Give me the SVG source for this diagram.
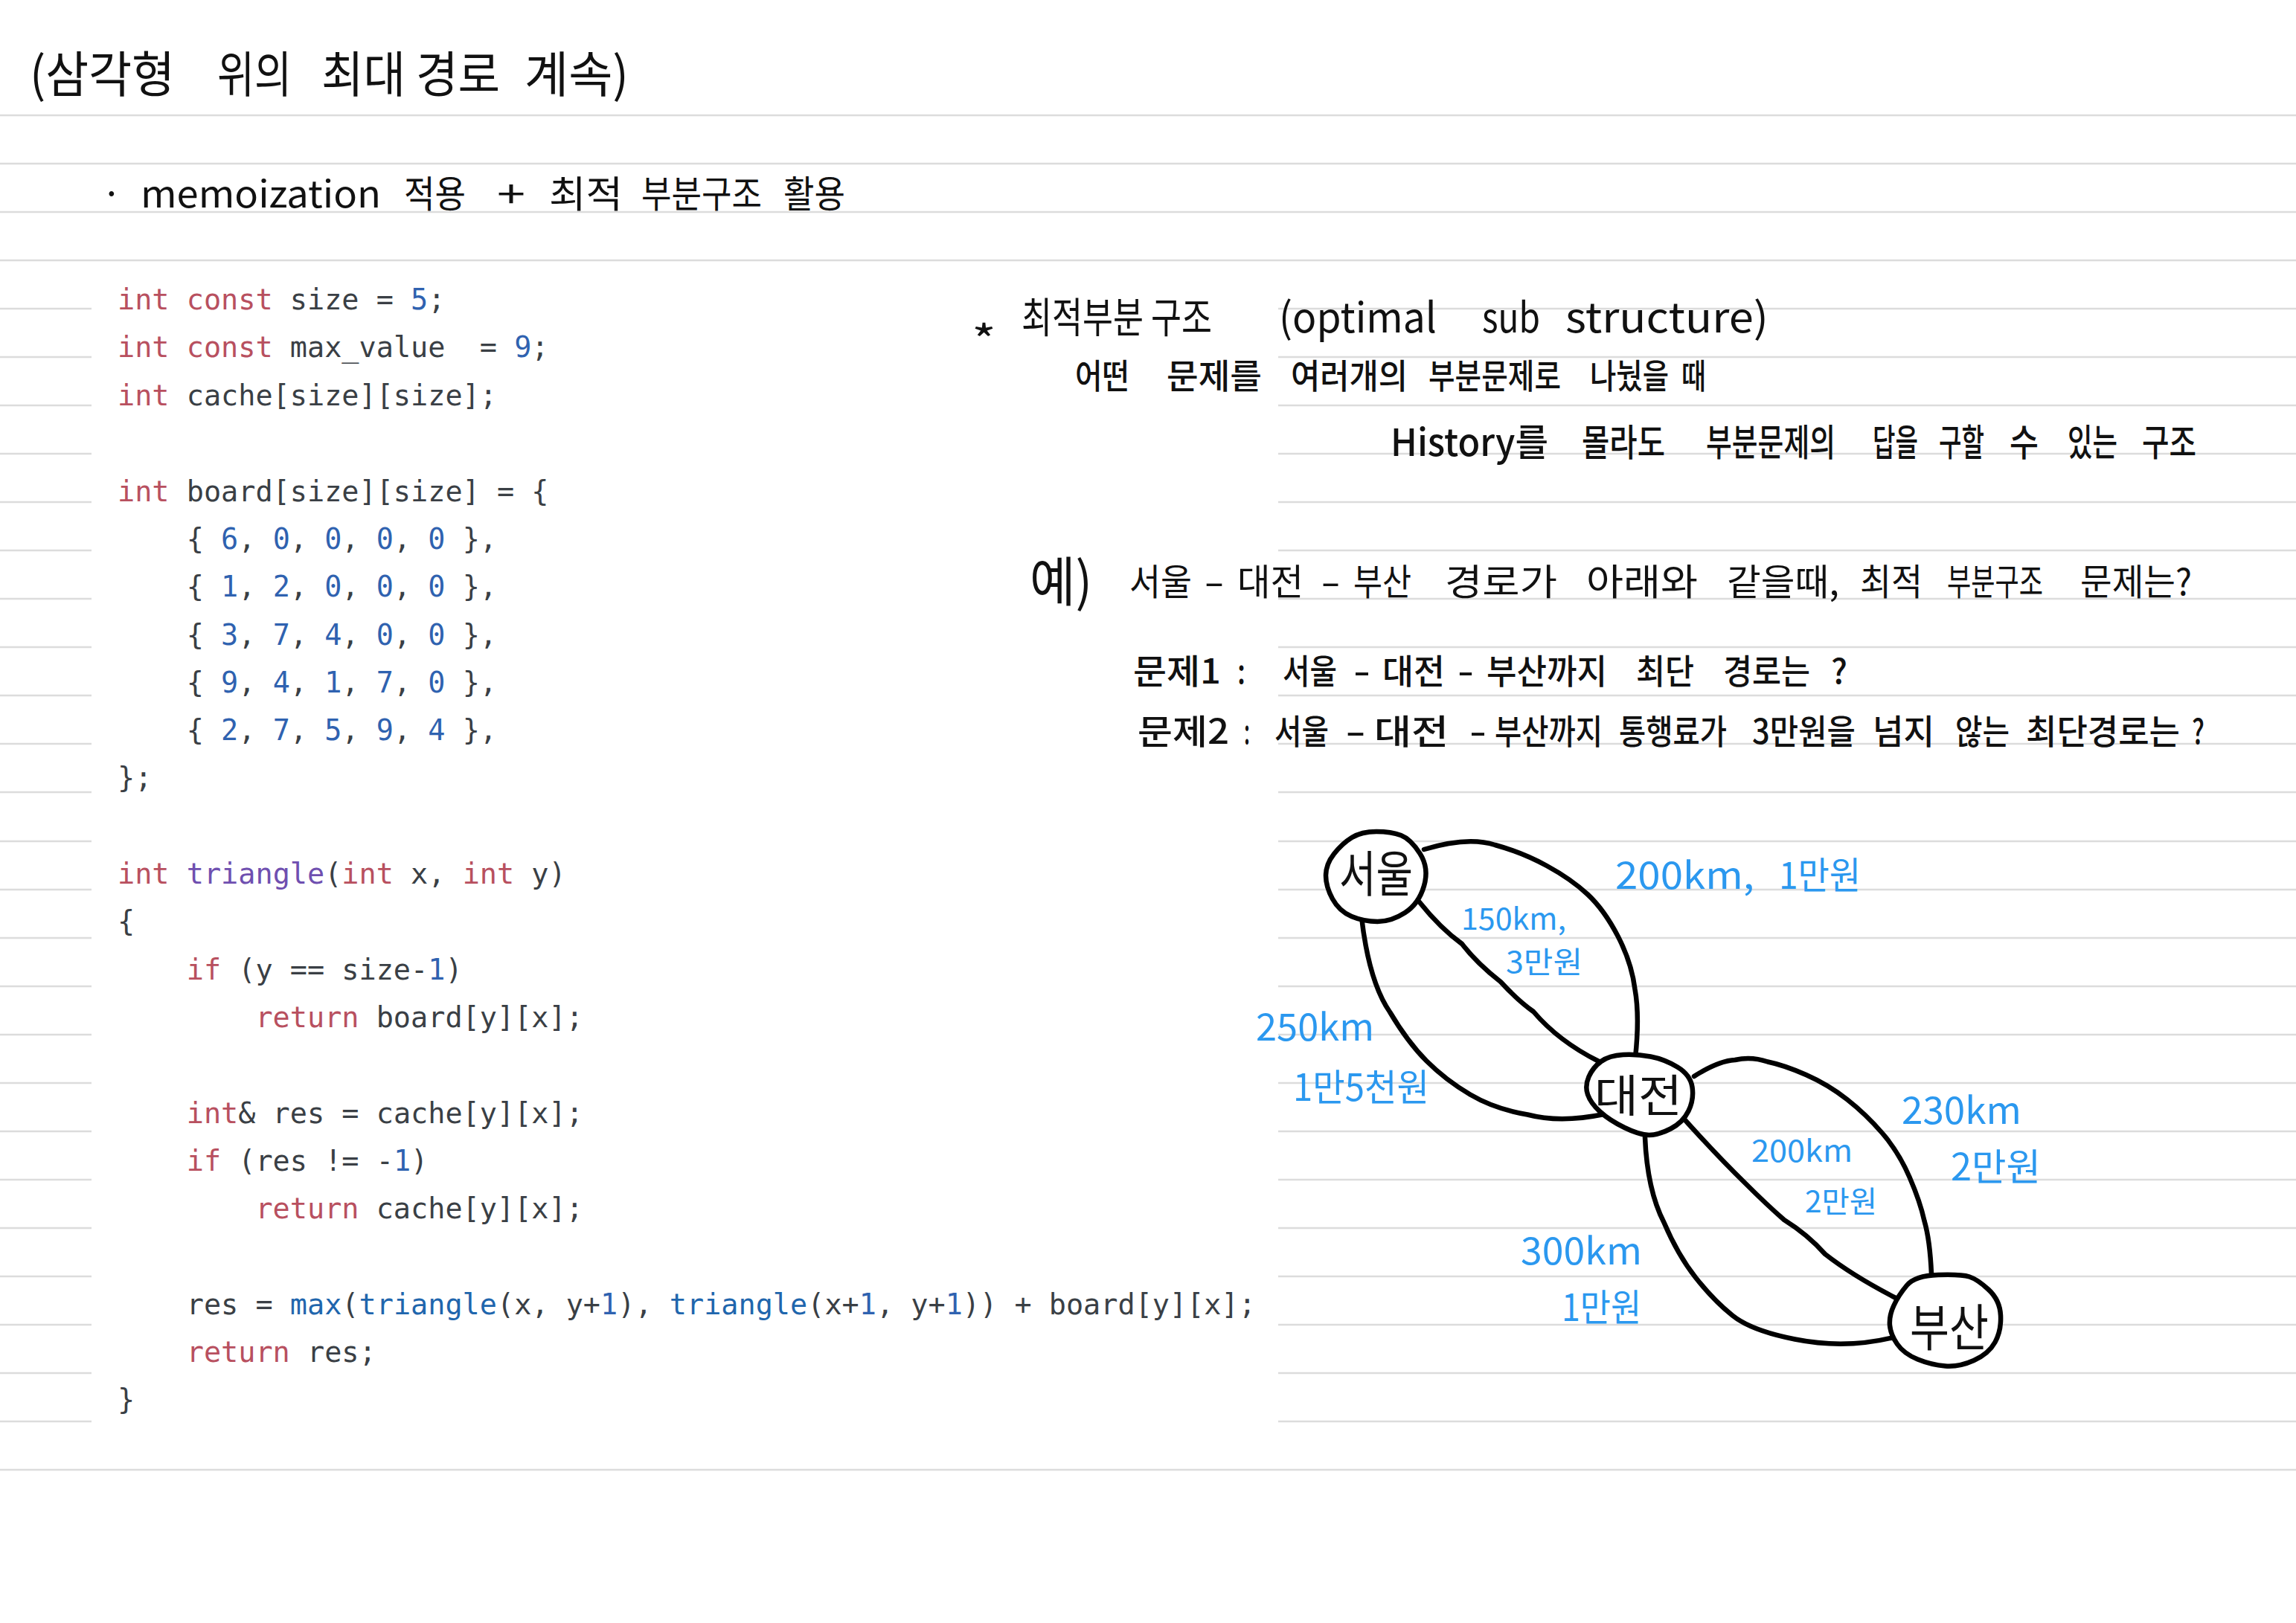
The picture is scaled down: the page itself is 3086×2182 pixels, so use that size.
<svg xmlns="http://www.w3.org/2000/svg" width="3086" height="2182" viewBox="0 0 3086 2182">
<style>
.bg{fill:#fff}
.rule{stroke:#dcdcdc;stroke-width:2.5;fill:none}
.code{font-family:"DejaVu Sans Mono","Liberation Mono",monospace;font-size:38.5px;fill:#3a3f45;white-space:pre}
.k{fill:#b8505f}.n{fill:#2f62b0}.f{fill:#6f4fb0}.c{fill:#1f66ad}
.hw{font-family:"Noto Sans CJK KR","Noto Sans",sans-serif;fill:#111}
.b5{font-weight:500}
.blue{font-family:"Noto Sans CJK KR","Noto Sans",sans-serif;fill:#2b98ef;font-size:50px}
.small{font-size:40px}
.edge{fill:none;stroke:#000;stroke-width:6.5;stroke-linecap:round;stroke-linejoin:round}
.node{fill:#fff;stroke:#000;stroke-width:6.5;stroke-linejoin:round}
</style>
<rect class="bg" width="3086" height="2182"/>
<g id="rules">
<path class="rule" d="M0 155H3086M0 220H3086M0 285H3086M0 350H3086M0 1976H3086"/>
<path class="rule" d="M0 415H123M0 480H123M0 545H123M0 610H123M0 675H123M0 740H123M0 805H123M0 870H123M0 935H123M0 1000H123M0 1065H123M0 1131H123M0 1196H123M0 1261H123M0 1326H123M0 1391H123M0 1456H123M0 1521H123M0 1586H123M0 1651H123M0 1716H123M0 1781H123M0 1846H123M0 1911H123"/>
<path class="rule" d="M1718 415H3086M1718 480H3086M1718 545H3086M1718 610H3086M1718 675H3086M1718 740H3086M1718 805H3086M1718 870H3086M1718 935H3086M1718 1000H3086M1718 1065H3086M1718 1131H3086M1718 1196H3086M1718 1261H3086M1718 1326H3086M1718 1391H3086M1718 1456H3086M1718 1521H3086M1718 1586H3086M1718 1651H3086M1718 1716H3086M1718 1781H3086M1718 1846H3086M1718 1911H3086"/>
</g>
<g id="heading">
<text class="hw" y="124" font-size="66"><tspan x="40" textLength="195" lengthAdjust="spacingAndGlyphs">(삼각형</tspan> <tspan x="292" textLength="100" lengthAdjust="spacingAndGlyphs">위의</tspan> <tspan x="432" textLength="240" lengthAdjust="spacingAndGlyphs">최대 경로</tspan> <tspan x="705" textLength="140" lengthAdjust="spacingAndGlyphs">계속)</tspan></text>
<text class="hw" y="279" font-size="50"><tspan x="136">·</tspan> <tspan x="189" textLength="323" lengthAdjust="spacingAndGlyphs">memoization</tspan> <tspan x="543" textLength="83" lengthAdjust="spacingAndGlyphs">적용</tspan> <tspan x="668" textLength="38" lengthAdjust="spacingAndGlyphs">+</tspan> <tspan x="738" textLength="99" lengthAdjust="spacingAndGlyphs">최적</tspan> <tspan x="862" textLength="162" lengthAdjust="spacingAndGlyphs">부분구조</tspan> <tspan x="1053" textLength="83" lengthAdjust="spacingAndGlyphs">활용</tspan></text>
</g>
<g id="code">
<text class="code" x="158" y="416"><tspan class="k">int const</tspan> size = <tspan class="n">5</tspan>;</text>
<text class="code" x="158" y="480"><tspan class="k">int const</tspan> max_value  = <tspan class="n">9</tspan>;</text>
<text class="code" x="158" y="545"><tspan class="k">int</tspan> cache[size][size];</text>
<text class="code" x="158" y="674"><tspan class="k">int</tspan> board[size][size] = {</text>
<text class="code" x="158" y="738">    { <tspan class="n">6</tspan>, <tspan class="n">0</tspan>, <tspan class="n">0</tspan>, <tspan class="n">0</tspan>, <tspan class="n">0</tspan> },</text>
<text class="code" x="158" y="802">    { <tspan class="n">1</tspan>, <tspan class="n">2</tspan>, <tspan class="n">0</tspan>, <tspan class="n">0</tspan>, <tspan class="n">0</tspan> },</text>
<text class="code" x="158" y="867">    { <tspan class="n">3</tspan>, <tspan class="n">7</tspan>, <tspan class="n">4</tspan>, <tspan class="n">0</tspan>, <tspan class="n">0</tspan> },</text>
<text class="code" x="158" y="931">    { <tspan class="n">9</tspan>, <tspan class="n">4</tspan>, <tspan class="n">1</tspan>, <tspan class="n">7</tspan>, <tspan class="n">0</tspan> },</text>
<text class="code" x="158" y="995">    { <tspan class="n">2</tspan>, <tspan class="n">7</tspan>, <tspan class="n">5</tspan>, <tspan class="n">9</tspan>, <tspan class="n">4</tspan> },</text>
<text class="code" x="158" y="1059">};</text>
<text class="code" x="158" y="1188"><tspan class="k">int</tspan> <tspan class="f">triangle</tspan>(<tspan class="k">int</tspan> x, <tspan class="k">int</tspan> y)</text>
<text class="code" x="158" y="1252">{</text>
<text class="code" x="158" y="1317">    <tspan class="k">if</tspan> (y == size-<tspan class="n">1</tspan>)</text>
<text class="code" x="158" y="1381">        <tspan class="k">return</tspan> board[y][x];</text>
<text class="code" x="158" y="1510">    <tspan class="k">int</tspan>&amp; res = cache[y][x];</text>
<text class="code" x="158" y="1574">    <tspan class="k">if</tspan> (res != -<tspan class="n">1</tspan>)</text>
<text class="code" x="158" y="1638">        <tspan class="k">return</tspan> cache[y][x];</text>
<text class="code" x="158" y="1767">    res = <tspan class="c">max</tspan>(<tspan class="c">triangle</tspan>(x, y+<tspan class="n">1</tspan>), <tspan class="c">triangle</tspan>(x+<tspan class="n">1</tspan>, y+<tspan class="n">1</tspan>)) + board[y][x];</text>
<text class="code" x="158" y="1831">    <tspan class="k">return</tspan> res;</text>
<text class="code" x="158" y="1895">}</text>
</g>
<g id="notes">
<text class="hw" y="447" font-size="56"><tspan x="1306" y="478" textLength="33" lengthAdjust="spacingAndGlyphs">*</tspan> <tspan x="1373" y="447" textLength="256" lengthAdjust="spacingAndGlyphs">최적부분 구조</tspan> <tspan x="1719" textLength="212" lengthAdjust="spacingAndGlyphs">(optimal</tspan> <tspan x="1992" textLength="78" lengthAdjust="spacingAndGlyphs">sub</tspan> <tspan x="2104" textLength="273" lengthAdjust="spacingAndGlyphs">structure)</tspan></text>
<text class="hw b5" y="522" font-size="46"><tspan x="1445" textLength="73" lengthAdjust="spacingAndGlyphs">어떤</tspan> <tspan x="1568" textLength="128" lengthAdjust="spacingAndGlyphs">문제를</tspan> <tspan x="1735" textLength="157" lengthAdjust="spacingAndGlyphs">여러개의</tspan> <tspan x="1920" textLength="178" lengthAdjust="spacingAndGlyphs">부분문제로</tspan> <tspan x="2137" textLength="106" lengthAdjust="spacingAndGlyphs">나눴을</tspan> <tspan x="2260" textLength="33" lengthAdjust="spacingAndGlyphs">때</tspan></text>
<text class="hw b5" y="613" font-size="50"><tspan x="1869" textLength="212" lengthAdjust="spacingAndGlyphs">History를</tspan> <tspan x="2126" textLength="112" lengthAdjust="spacingAndGlyphs">몰라도</tspan> <tspan x="2293" textLength="174" lengthAdjust="spacingAndGlyphs">부분문제의</tspan> <tspan x="2517" textLength="61" lengthAdjust="spacingAndGlyphs">답을</tspan> <tspan x="2606" textLength="61" lengthAdjust="spacingAndGlyphs">구할</tspan> <tspan x="2701" textLength="39" lengthAdjust="spacingAndGlyphs">수</tspan> <tspan x="2779" textLength="67" lengthAdjust="spacingAndGlyphs">있는</tspan> <tspan x="2879" textLength="73" lengthAdjust="spacingAndGlyphs">구조</tspan></text>
<text class="hw" y="800" font-size="49"><tspan x="1384" y="808" font-size="72" textLength="84" lengthAdjust="spacingAndGlyphs">예)</tspan> <tspan x="1518" y="800" textLength="84" lengthAdjust="spacingAndGlyphs">서울</tspan> <tspan x="1618" textLength="28" lengthAdjust="spacingAndGlyphs">-</tspan> <tspan x="1663" textLength="89" lengthAdjust="spacingAndGlyphs">대전</tspan> <tspan x="1775" textLength="27" lengthAdjust="spacingAndGlyphs">-</tspan> <tspan x="1819" textLength="78" lengthAdjust="spacingAndGlyphs">부산</tspan> <tspan x="1942" textLength="151" lengthAdjust="spacingAndGlyphs">경로가</tspan> <tspan x="2132" textLength="150" lengthAdjust="spacingAndGlyphs">아래와</tspan> <tspan x="2321" textLength="151" lengthAdjust="spacingAndGlyphs">같을때,</tspan> <tspan x="2500" textLength="84" lengthAdjust="spacingAndGlyphs">최적</tspan> <tspan x="2617" textLength="129" lengthAdjust="spacingAndGlyphs">부분구조</tspan> <tspan x="2796" textLength="150" lengthAdjust="spacingAndGlyphs">문제는?</tspan></text>
<text class="hw b5" y="919" font-size="46"><tspan x="1523" textLength="118" lengthAdjust="spacingAndGlyphs">문제1</tspan> <tspan x="1663" textLength="11" lengthAdjust="spacingAndGlyphs">:</tspan> <tspan x="1724" textLength="73" lengthAdjust="spacingAndGlyphs">서울</tspan> <tspan x="1819" textLength="23" lengthAdjust="spacingAndGlyphs">-</tspan> <tspan x="1858" textLength="84" lengthAdjust="spacingAndGlyphs">대전</tspan> <tspan x="1959" textLength="22" lengthAdjust="spacingAndGlyphs">-</tspan> <tspan x="1998" textLength="162" lengthAdjust="spacingAndGlyphs">부산까지</tspan> <tspan x="2199" textLength="78" lengthAdjust="spacingAndGlyphs">최단</tspan> <tspan x="2316" textLength="117" lengthAdjust="spacingAndGlyphs">경로는</tspan> <tspan x="2461" textLength="22" lengthAdjust="spacingAndGlyphs">?</tspan></text>
<text class="hw b5" y="1000" font-size="46"><tspan x="1529" textLength="123" lengthAdjust="spacingAndGlyphs">문제2</tspan> <tspan x="1672" textLength="8" lengthAdjust="spacingAndGlyphs">:</tspan> <tspan x="1713" textLength="73" lengthAdjust="spacingAndGlyphs">서울</tspan> <tspan x="1808" textLength="28" lengthAdjust="spacingAndGlyphs">-</tspan> <tspan x="1847" textLength="100" lengthAdjust="spacingAndGlyphs">대전</tspan> <tspan x="1975" textLength="23" lengthAdjust="spacingAndGlyphs">-</tspan> <tspan x="2009" textLength="145" lengthAdjust="spacingAndGlyphs">부산까지</tspan> <tspan x="2176" textLength="145" lengthAdjust="spacingAndGlyphs">통행료가</tspan> <tspan x="2355" textLength="139" lengthAdjust="spacingAndGlyphs">3만원을</tspan> <tspan x="2517" textLength="83" lengthAdjust="spacingAndGlyphs">넘지</tspan> <tspan x="2628" textLength="73" lengthAdjust="spacingAndGlyphs">않는</tspan> <tspan x="2723" textLength="207" lengthAdjust="spacingAndGlyphs">최단경로는</tspan> <tspan x="2946" textLength="17" lengthAdjust="spacingAndGlyphs">?</tspan></text>
</g>
<g id="connectors">
<path id="e1" class="edge" d="M1914,1142 Q1973,1124 2009.5,1136 Q2046,1146 2079,1164 Q2112,1182 2134,1202.5 Q2156,1223 2174.5,1258.5 Q2193,1294 2197.5,1330 Q2204,1366 2198,1422"/>
<path id="e2" class="edge" d="M1908,1213 Q1936,1248 1965,1269 Q1985,1295 2017,1320 Q2040,1345 2061,1360 Q2095,1400 2149,1427"/>
<path id="e3" class="edge" d="M1830,1233 Q1840,1320 1868,1360.5 Q1892,1401 1917.5,1426.5 Q1943,1452 1976,1471.5 Q2009,1491 2053,1498.5 Q2097,1510 2156,1498"/>
<path id="e4" class="edge" d="M2277,1447 Q2310,1426 2332,1425 Q2354,1420 2376,1427.5 Q2398,1432 2427.5,1445 Q2457,1458 2482.5,1478 Q2508,1498 2530,1523.5 Q2552,1549 2566.5,1582.5 Q2581,1616 2586.5,1641.5 Q2594,1667 2596,1713"/>
<path id="e5" class="edge" d="M2265,1506 Q2310,1556 2345,1590 Q2375,1620 2398,1640 Q2430,1660 2453,1686 Q2490,1715 2548,1745"/>
<path id="e6" class="edge" d="M2211,1529 Q2214,1600 2236.5,1643.5 Q2255,1687 2279,1717.5 Q2303,1748 2328.5,1768.5 Q2354,1789 2412.5,1800.5 Q2480,1814 2545,1798"/>
</g>
<g id="node-seoul">
<path class="node" d="M1850,1118 Q1870,1118 1883,1123 Q1896,1128 1908.5,1147.5 Q1921,1167 1914,1191 Q1907,1215 1888.5,1227 Q1870,1239 1851.5,1239 Q1833,1239 1816.5,1232 Q1800,1225 1791,1208.5 Q1782,1192 1782,1177 Q1782,1162 1793,1148 Q1804,1134 1817,1126 Q1830,1118 1850,1118 Z"/>
<text class="hw" x="1800" y="1199" font-size="66" textLength="99" lengthAdjust="spacingAndGlyphs">서울</text>
</g>
<g id="node-daejeon">
<path class="node" d="M2181.5,1418 Q2200,1417 2218.5,1420.5 Q2237,1424 2254.5,1434.5 Q2272,1445 2274.5,1461.5 Q2277,1478 2269.5,1493.5 Q2262,1509 2245.5,1517.5 Q2229,1526 2216.5,1526 Q2204,1526 2183.5,1516 Q2163,1506 2150.5,1494.5 Q2138,1483 2134,1471.5 Q2130,1460 2135.5,1447.5 Q2141,1435 2152,1427 Q2163,1419 2181.5,1418 Z"/>
<text class="hw" x="2143" y="1495" font-size="60" textLength="118" lengthAdjust="spacingAndGlyphs">대전</text>
</g>
<g id="node-busan">
<path class="node" d="M2605,1714 Q2636,1713 2647,1716.5 Q2658,1720 2673,1734 Q2688,1748 2689,1768.5 Q2690,1789 2681.5,1804.5 Q2673,1820 2653,1829 Q2633,1838 2614.5,1836.5 Q2596,1835 2577.5,1827.5 Q2559,1820 2550,1807 Q2541,1794 2540,1781.5 Q2539,1769 2545.5,1755 Q2552,1741 2563,1728 Q2574,1715 2605,1714 Z"/>
<text class="hw" x="2567" y="1810" font-size="68" textLength="106" lengthAdjust="spacingAndGlyphs">부산</text>
</g>
<g id="edge-labels">
<text class="blue" y="1195"><tspan x="2171" textLength="187" lengthAdjust="spacingAndGlyphs">200km,</tspan> <tspan x="2391" textLength="110" lengthAdjust="spacingAndGlyphs">1만원</tspan></text>
<text class="blue small" x="1964" y="1250" textLength="141" lengthAdjust="spacingAndGlyphs">150km,</text>
<text class="blue small" x="2024" y="1308" textLength="103" lengthAdjust="spacingAndGlyphs">3만원</text>
<text class="blue" x="1688" y="1399" textLength="159" lengthAdjust="spacingAndGlyphs">250km</text>
<text class="blue" x="1738" y="1480" textLength="183" lengthAdjust="spacingAndGlyphs">1만5천원</text>
<text class="blue" x="2556" y="1511" textLength="161" lengthAdjust="spacingAndGlyphs">230km</text>
<text class="blue" x="2622" y="1587" textLength="121" lengthAdjust="spacingAndGlyphs">2만원</text>
<text class="blue small" x="2354" y="1562" textLength="136" lengthAdjust="spacingAndGlyphs">200km</text>
<text class="blue small" x="2426" y="1630" textLength="97" lengthAdjust="spacingAndGlyphs">2만원</text>
<text class="blue" x="2044" y="1700" textLength="163" lengthAdjust="spacingAndGlyphs">300km</text>
<text class="blue" x="2099" y="1776" textLength="107" lengthAdjust="spacingAndGlyphs">1만원</text>
</g>
</svg>
